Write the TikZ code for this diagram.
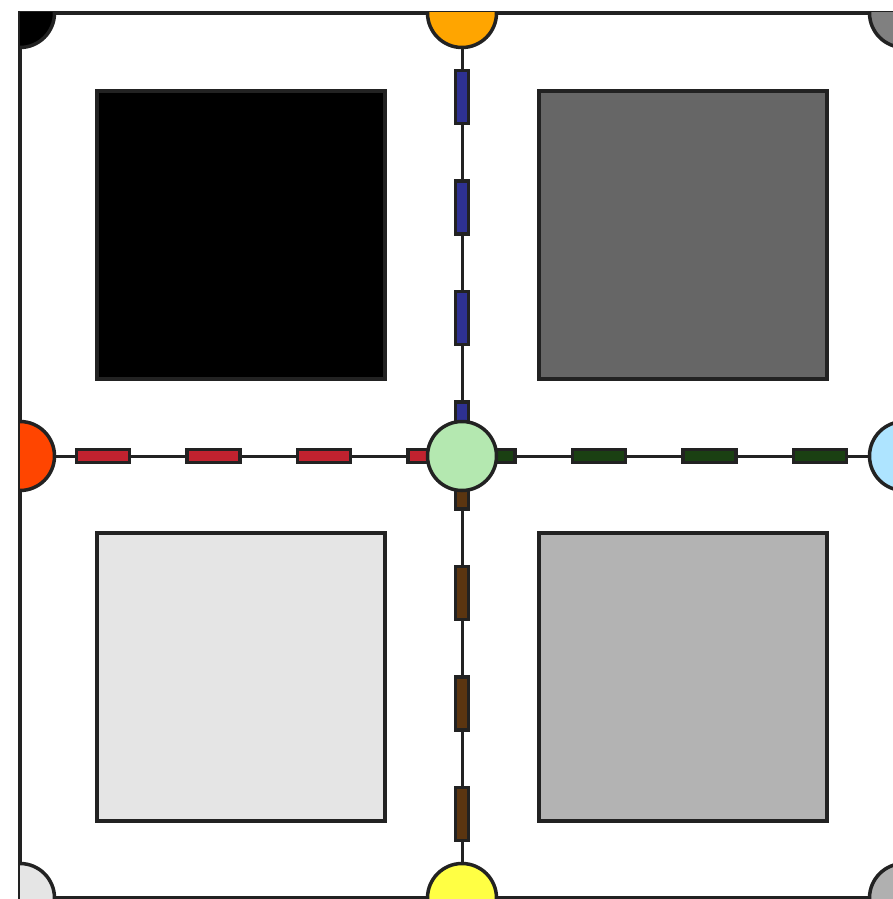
\documentclass[tikz,border=0pt]{standalone}
\definecolor{edgec}{HTML}{222222}
\definecolor{dashN}{HTML}{2E3192}
\definecolor{dashW}{HTML}{C1222F}
\definecolor{dashE}{HTML}{1A4012}
\definecolor{dashS}{HTML}{5B3510}
\definecolor{dotN}{HTML}{FFA500}
\definecolor{dotW}{HTML}{FF4500}
\definecolor{dotE}{HTML}{AEE4FF}
\definecolor{dotS}{HTML}{FFFF44}
\definecolor{dotC}{HTML}{B4E8B0}
\definecolor{boxB}{HTML}{666666}
\definecolor{boxC}{HTML}{E5E5E5}
\definecolor{boxD}{HTML}{B3B3B3}
\definecolor{cornB}{HTML}{808080}
\definecolor{cornC}{HTML}{E5E5E5}
\definecolor{cornD}{HTML}{B0B0B0}
\pgfdeclarelayer{bg}
\pgfsetlayers{bg,main}
\begin{document}
\begin{tikzpicture}[x=1pt,y=-1pt,line join=miter,
  frame/.style={draw=edgec,line width=4pt},
  box/.style={draw=edgec,line width=3.5pt,minimum size=288pt,inner sep=0pt},
  dot/.style={circle,draw=edgec,line width=3.5pt,minimum size=69pt,inner sep=0pt},
  link/.style={draw=edgec,line width=3pt},
  seg/.style={draw=edgec,line width=3.5pt}]
\useasboundingbox (0,0) rectangle (892,899);
\draw[frame] (20,13) rectangle (904,898);
% boxes
\node[box,fill=black] (qa) at (241,235) {};
\node[box,fill=boxB] (qb) at (683,235) {};
\node[box,fill=boxC] (qc) at (241,677) {};
\node[box,fill=boxD] (qd) at (683,677) {};
% circles on the frame, clipped to it
\begin{scope}
\clip (20,13) rectangle (904,898);
\node[dot,fill=black] (ka) at (20,13) {};
\node[dot,fill=cornB] (kb) at (904,13) {};
\node[dot,fill=cornC] (kc) at (20,898) {};
\node[dot,fill=cornD] (kd) at (904,898) {};
\node[dot,fill=dotN] (n) at (462,13) {};
\node[dot,fill=dotW] (w) at (20,456) {};
\node[dot,fill=dotE] (e) at (904,456) {};
\node[dot,fill=dotS] (s) at (462,898) {};
\end{scope}
\node[dot,fill=dotC] (c) at (462,456) {};
\begin{pgfonlayer}{bg}
\fill[white] (0,0) rectangle (892,899);
\draw[link] (c) -- (n);
\draw[link] (c) -- (w);
\draw[link] (c) -- (e);
\draw[link] (c) -- (s);
\foreach \k in {0,...,3}{
  \pgfmathsetmacro{\a}{69+110.5*\k}
  \draw[seg,fill=dashN] (455.5,\a+1.5) rectangle (468.5,\a+54.5);
  \pgfmathsetmacro{\b}{75+110.5*\k}
  \draw[seg,fill=dashW] (\b+1.5,449.5) rectangle (\b+54.5,462.5);
  \pgfmathsetmacro{\r}{848-110.5*\k}
  \draw[seg,fill=dashE] (\r-54.5,449.5) rectangle (\r-1.5,462.5);
  \pgfmathsetmacro{\d}{842-110.5*\k}
  \draw[seg,fill=dashS] (455.5,\d-54.5) rectangle (468.5,\d-1.5);
}
\end{pgfonlayer}
\end{tikzpicture}
\end{document}
